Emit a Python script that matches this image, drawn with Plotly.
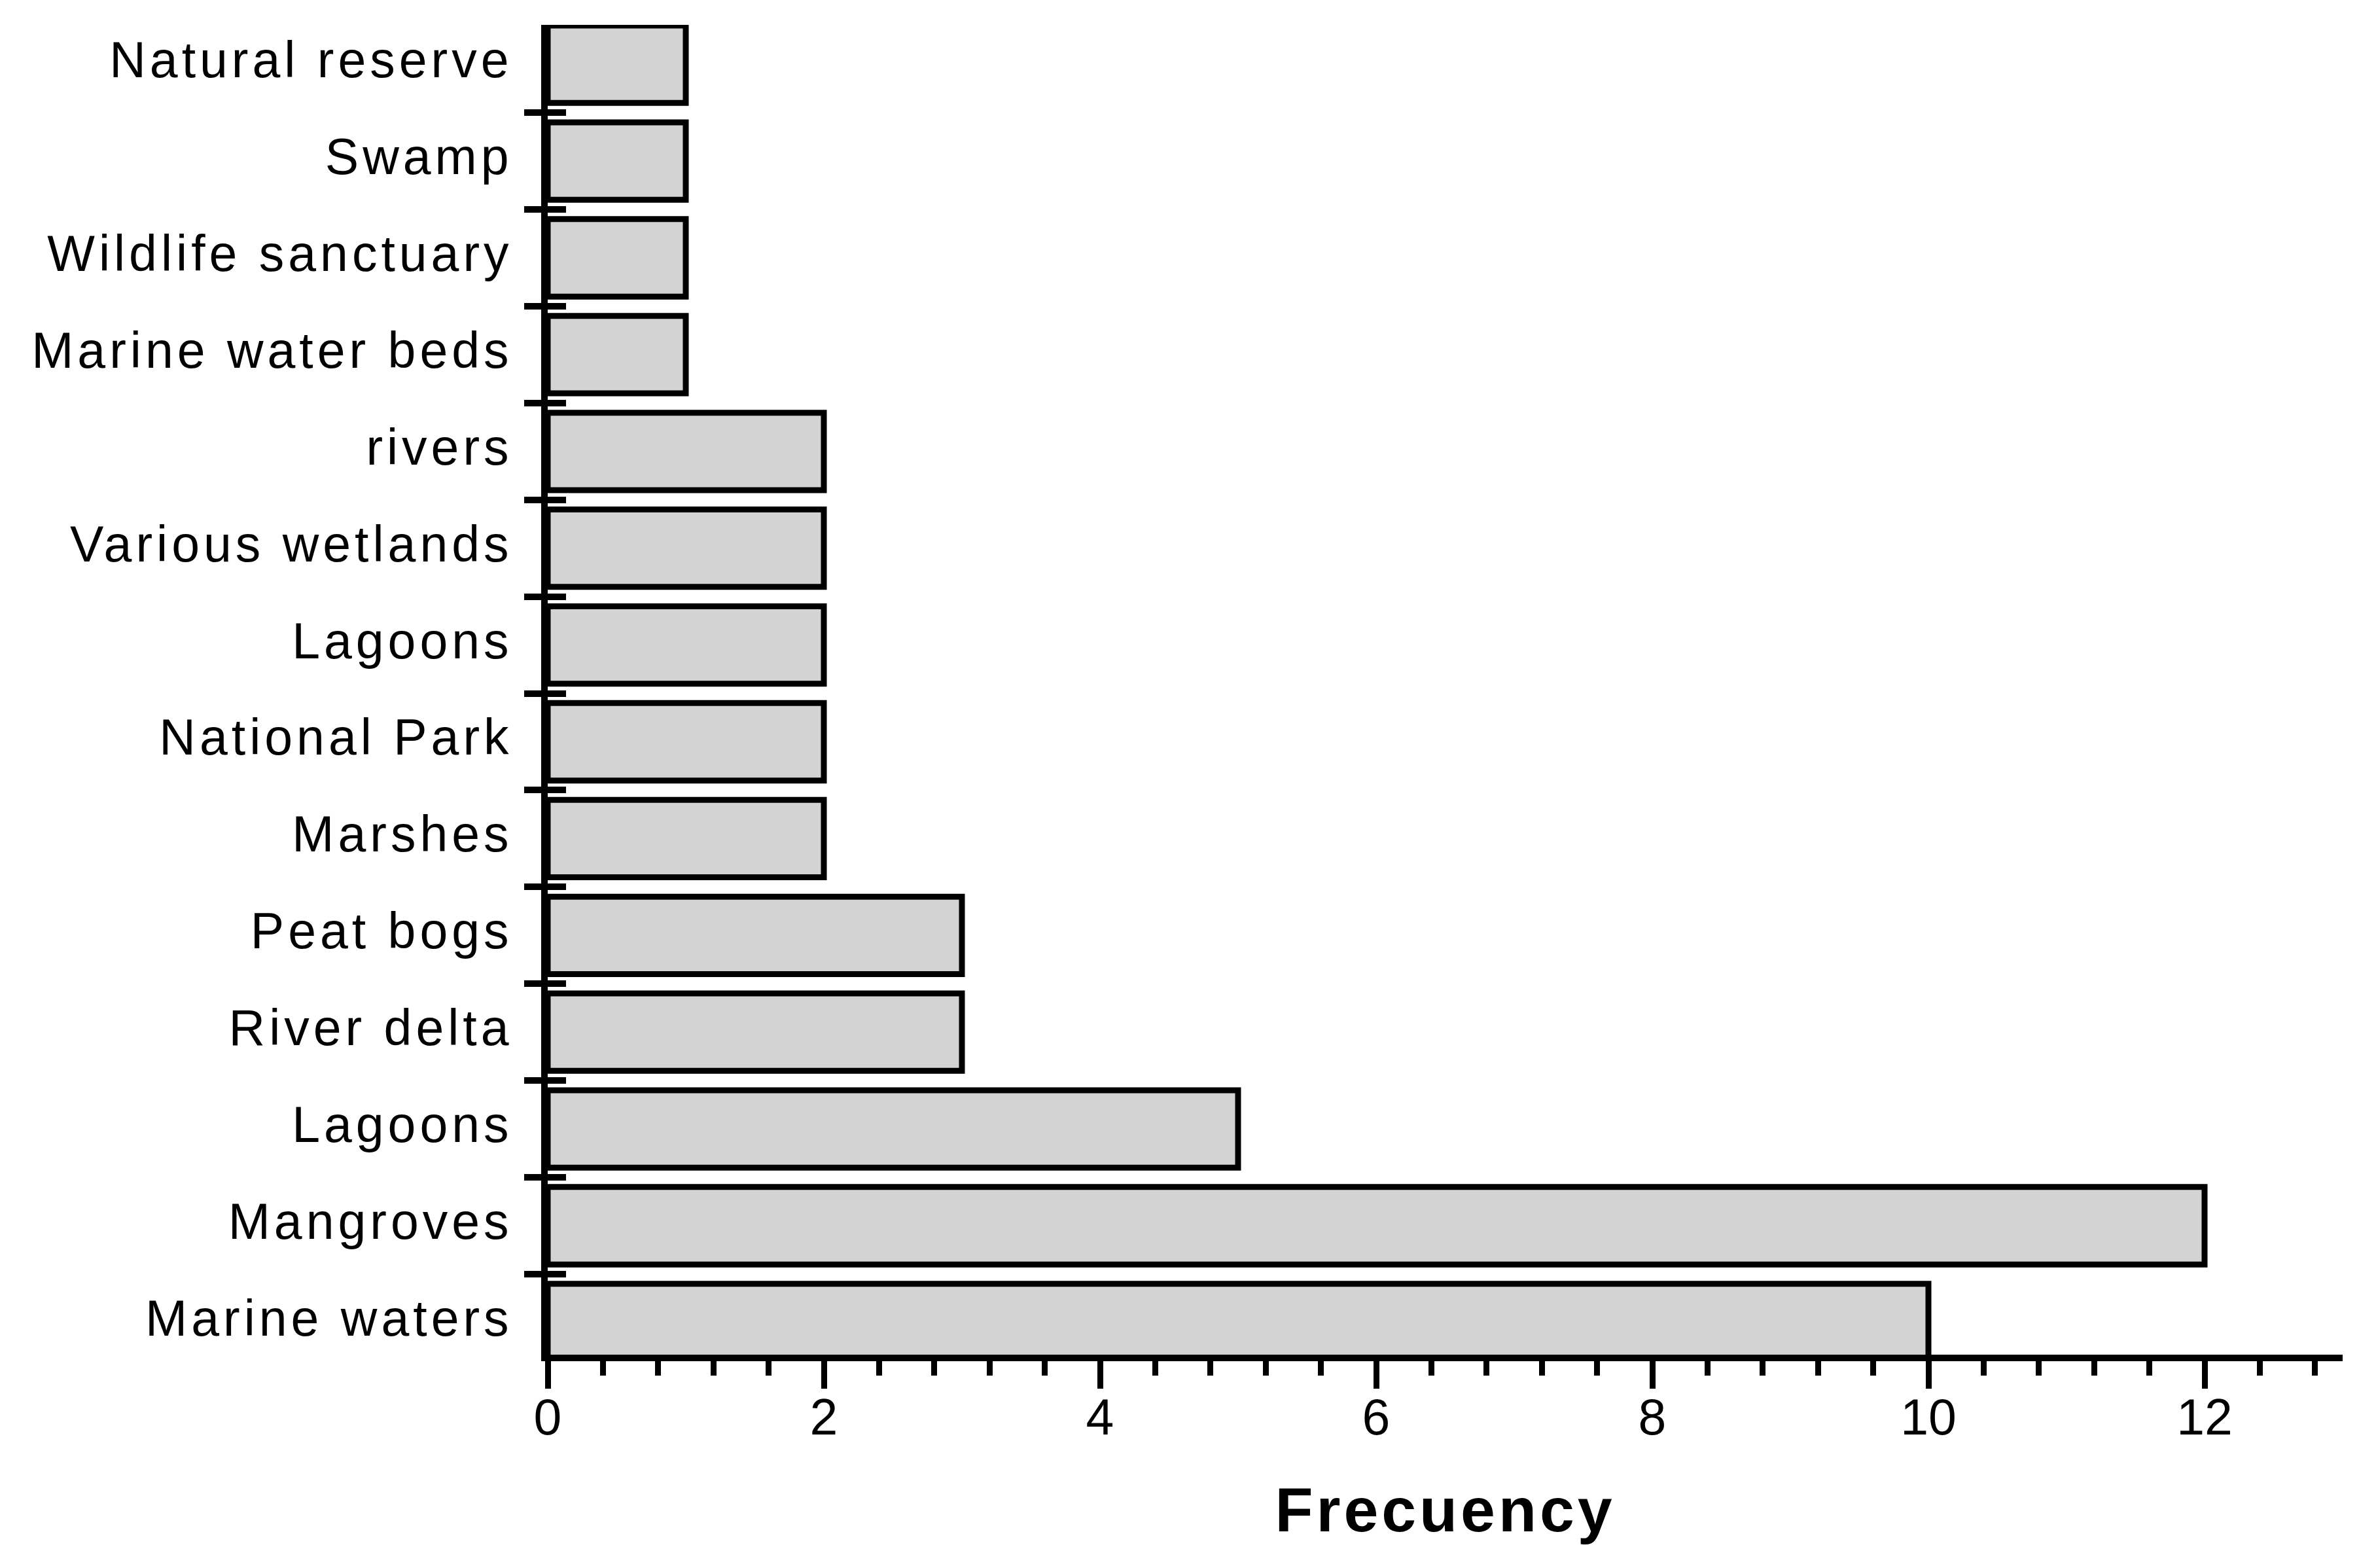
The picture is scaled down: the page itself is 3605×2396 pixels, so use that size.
import plotly.graph_objects as go

# Data (bottom to top, as drawn)
categories = [
    "Marine waters", "Mangroves", "Lagoons", "River delta", "Peat bogs",
    "Marshes", "National Park", "Lagoons", "Various wetlands", "rivers",
    "Marine water beds", "Wildlife sanctuary", "Swamp", "Natural reserve",
]
frequency = [10, 12, 5, 3, 3, 2, 2, 2, 2, 2, 1, 1, 1, 1]
x_tick_values = [0, 2, 4, 6, 8, 10, 12]
x_title = "Frecuency"

positions = list(range(len(categories)))
boundaries = [p + 0.5 for p in positions[:-1]]

FONT = "Liberation Sans, Arial, sans-serif"

fig = go.Figure()
fig.add_trace(go.Bar(
    y=positions,
    x=frequency,
    orientation="h",
    width=0.8,
    marker=dict(color="#d3d3d3", line=dict(color="black", width=9)),
    hoverinfo="x+text",
    text=categories,
    textposition="none",
    showlegend=False,
))
# invisible companion trace so the overlaying axis (inner half of the
# category-boundary ticks) is rendered
fig.add_trace(go.Scatter(
    y=positions,
    x=frequency,
    yaxis="y2",
    mode="none",
    hoverinfo="skip",
    showlegend=False,
))

fig.update_layout(
    width=3605,
    height=2396,
    paper_bgcolor="white",
    plot_bgcolor="white",
    margin=dict(l=829, r=33, t=30, b=334),
    font=dict(family=FONT, color="black"),
    xaxis=dict(
        range=[0, 13],
        tickmode="array",
        tickvals=x_tick_values,
        ticks="outside",
        ticklen=42,
        tickwidth=9,
        tickcolor="black",
        minor=dict(dtick=0.4, tick0=0, ticks="outside", ticklen=22,
                   tickwidth=9, tickcolor="black", showgrid=False),
        showline=True,
        linewidth=10,
        linecolor="black",
        showgrid=False,
        zeroline=False,
        ticklabelstandoff=-22,
        tickfont=dict(size=77, family=FONT, color="black"),
        title=dict(text=x_title, font=dict(size=95, family=FONT, color="black",
                                           weight="bold"), standoff=70),
    ),
    yaxis=dict(
        range=[-0.332, 13.407],
        tickmode="array",
        tickvals=positions,
        ticktext=categories,
        ticks="",
        minor=dict(tickmode="array", tickvals=boundaries, ticks="outside",
                   ticklen=26, tickwidth=10, tickcolor="black", showgrid=False),
        showline=True,
        linewidth=10,
        linecolor="black",
        showgrid=False,
        zeroline=False,
        ticklabelstandoff=28,
        ticklabelshift=-7,
        tickfont=dict(size=77, family=FONT, color="black"),
    ),
    yaxis2=dict(
        overlaying="y",
        matches="y",
        side="left",
        anchor="x",
        tickmode="array",
        tickvals=positions,
        showticklabels=False,
        ticks="",
        minor=dict(tickmode="array", tickvals=boundaries, ticks="inside",
                   ticklen=28, tickwidth=10, tickcolor="black", showgrid=False),
        showline=False,
        showgrid=False,
        zeroline=False,
    ),
)

post_script = """
var gd = document.getElementById('{plot_id}');
function spacing(){
  gd.querySelectorAll('g.ytick text').forEach(function(t){ t.style.letterSpacing = '6px'; });
  gd.querySelectorAll('text.xtitle').forEach(function(t){ t.style.letterSpacing = '5px'; });
}
spacing();
gd.on('plotly_afterplot', spacing);
"""

fig.write_html("out.html", post_script=post_script)
